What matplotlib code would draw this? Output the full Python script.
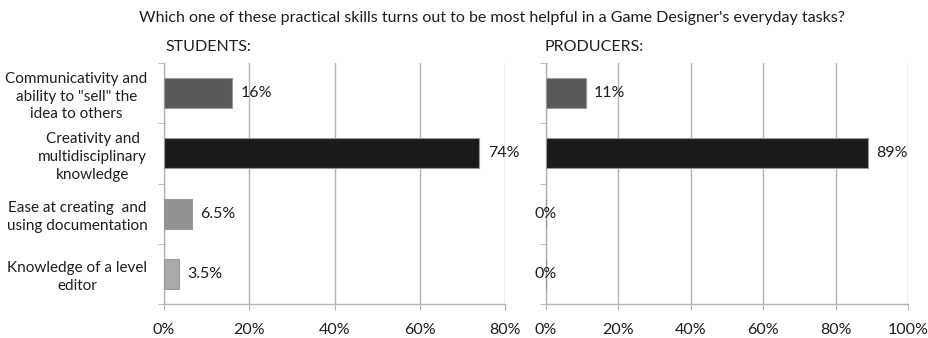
import matplotlib
matplotlib.use("Agg")
import matplotlib.pyplot as plt
from matplotlib.ticker import MultipleLocator, FixedLocator, PercentFormatter

plt.rcParams["font.family"] = ["Lato", "DejaVu Sans"]

title = "Which one of these practical skills turns out to be most helpful in a Game Designer's everyday tasks?"
skills = [
    "Communicativity and\nability to \"sell\" the\nidea to others",
    "Creativity and\nmultidisciplinary\nknowledge",
    "Ease at creating  and\nusing documentation",
    "Knowledge of a level\neditor",
]
students = [16, 74, 6.5, 3.5]
producers = [11, 89, 0, 0]
student_labels = ["16%", "74%", "6.5%", "3.5%"]
producer_labels = ["11%", "89%", "0%", "0%"]
bar_colors = ["#595959", "#1c1a1a", "#929292", "#a9a9a9"]

W, H = 929, 338
fig = plt.figure(figsize=(W / 100, H / 100), dpi=100)

bottom, top = 304, 63
ax1 = fig.add_axes([164 / W, (H - bottom) / H, (505 - 164) / W, (bottom - top) / H])
ax2 = fig.add_axes([546 / W, (H - bottom) / H, (908 - 546) / W, (bottom - top) / H])

grid_c = "#b4b4b4"
text_c = "#1e1e1e"


def panel(ax, values, labels, xmax):
    y = list(range(len(values)))
    ax.barh(y, values, height=0.5, color=bar_colors, edgecolor="#9a9a9a",
            linewidth=0.8, zorder=3)
    ax.set_xlim(0, xmax)
    ax.set_ylim(len(values) - 0.5, -0.5)
    ax.xaxis.set_major_locator(MultipleLocator(20))
    ax.xaxis.set_major_formatter(PercentFormatter(decimals=0))
    ax.grid(axis="x", color=grid_c, linewidth=1, zorder=0)
    ax.set_axisbelow(True)
    for s in ("top", "right"):
        ax.spines[s].set_visible(False)
    for s in ("left", "bottom"):
        ax.spines[s].set_color(grid_c)
        ax.spines[s].set_linewidth(1)
    ax.tick_params(axis="x", length=4, color=grid_c, labelsize=11.5,
                   labelcolor=text_c, pad=10)
    ax.yaxis.set_major_locator(FixedLocator(y))
    ax.yaxis.set_minor_locator(FixedLocator([i - 0.5 for i in range(len(values) + 1)]))
    ax.tick_params(axis="y", which="major", length=0)
    ax.tick_params(axis="y", which="minor", length=4, color=grid_c)
    for i, (v, lab) in enumerate(zip(values, labels)):
        if v == 0:
            ax.annotate(lab, (v, i), xytext=(0, 0), textcoords="offset points",
                        ha="center", va="center", fontsize=11.5, color=text_c)
        else:
            ax.annotate(lab, (v, i), xytext=(6, 0), textcoords="offset points",
                        ha="left", va="center", fontsize=11.5, color=text_c)


panel(ax1, students, student_labels, 80)
panel(ax2, producers, producer_labels, 100)

ax1.set_yticklabels(skills, fontsize=11, color=text_c, multialignment="center",
                    linespacing=1.35)
ax1.tick_params(axis="y", which="major", pad=12)
ax2.set_yticklabels([])

fig.text(492 / W, 1 - 18 / H, title, ha="center", va="center", fontsize=11.5, color=text_c)
fig.text(165 / W, 1 - 47 / H, "STUDENTS:", ha="left", va="center", fontsize=11.5, color=text_c)
fig.text(545 / W, 1 - 47 / H, "PRODUCERS:", ha="left", va="center", fontsize=11.5, color=text_c)

fig.savefig("out.png", dpi=100)
